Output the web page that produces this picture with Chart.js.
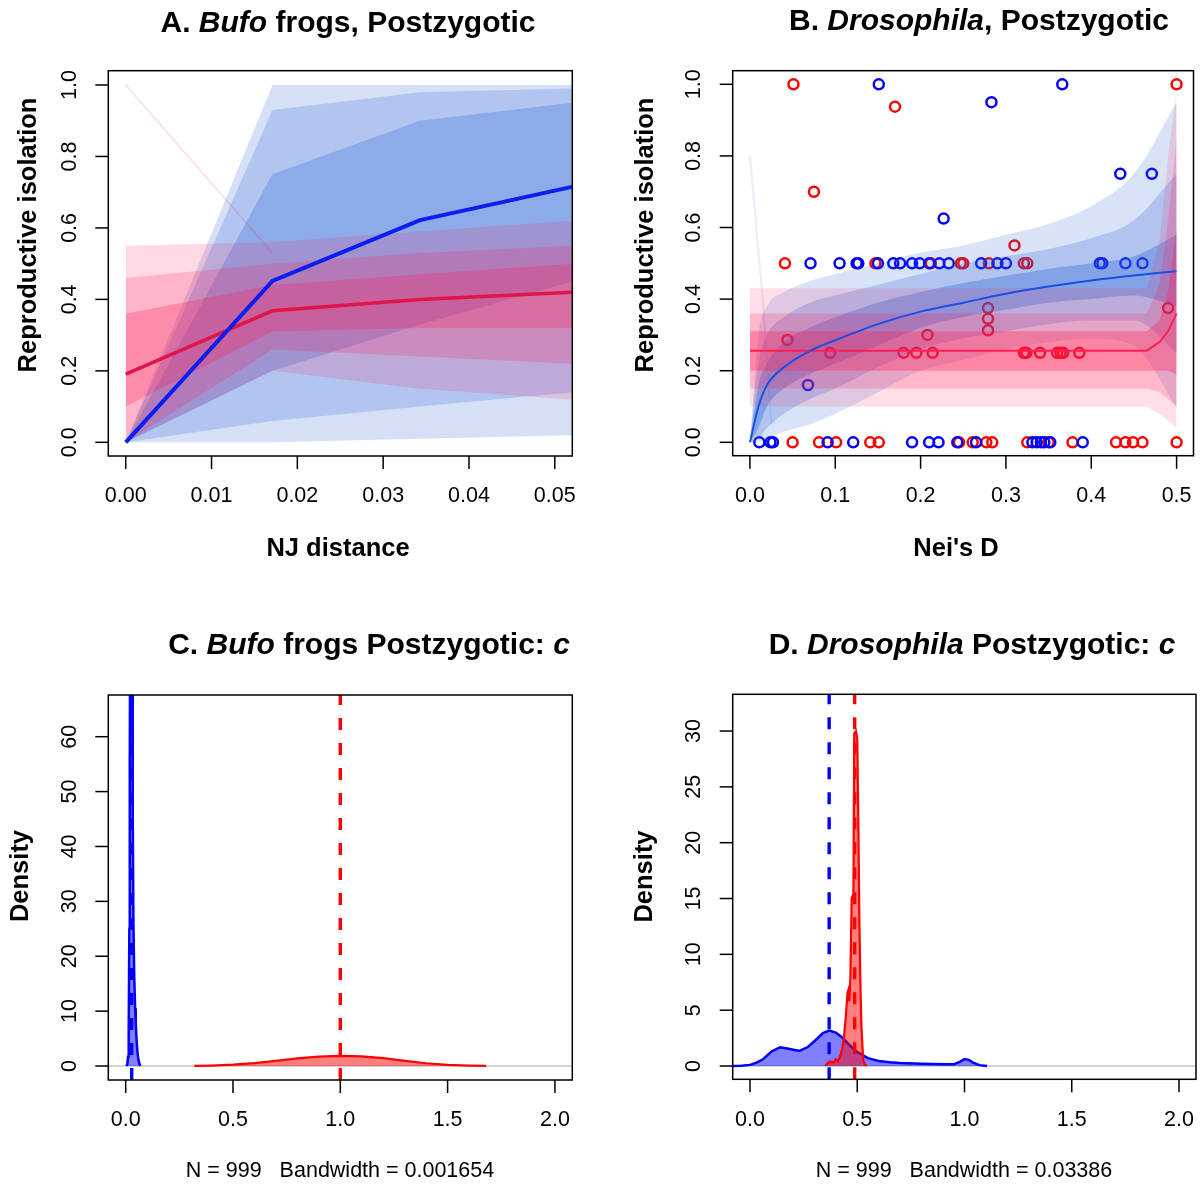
<!DOCTYPE html>
<html>
<head>
<meta charset="utf-8">
<title>Reproductive isolation: Bufo and Drosophila</title>
<script src="https://cdn.jsdelivr.net/npm/chart.js@4.4.1/dist/chart.umd.min.js"></script>
<style>
  body { margin: 0; background: #fff; }
  #wrap { position: relative; width: 1201px; height: 1184px; }
  #wrap canvas { position: absolute; }
</style>
</head>
<body>
<div id="wrap">
  <canvas id="panelA" width="600" height="592" style="left:0;top:0"></canvas>
  <canvas id="panelB" width="601" height="592" style="left:600px;top:0"></canvas>
  <canvas id="panelC" width="600" height="592" style="left:0;top:592px"></canvas>
  <canvas id="panelD" width="601" height="592" style="left:600px;top:592px"></canvas>
</div>
<script>
// ---------- A. Bufo frogs: posterior curves vs NJ distance ----------
const aKnots = [0, 0.0171, 0.0343, 0.052];
const aBlueMean = [0, 0.452, 0.622, 0.715];
const aRedMean = [0.191, 0.368, 0.400, 0.420];
// spread of the posterior draws at each knot (2/10/25/75/90/98 %)
const aBlueQ02 = [0, 0.00, 0.01, 0.02];
const aBlueQ10 = [0, 0.06, 0.10, 0.14];
const aBlueQ25 = [0, 0.20, 0.33, 0.45];
const aBlueQ75 = [0, 0.75, 0.90, 0.95];
const aBlueQ90 = [0, 0.93, 0.98, 0.99];
const aBlueQ98 = [0, 1.00, 1.00, 1.00];
const aRedQ02 = [0.00, 0.20, 0.15, 0.12];
const aRedQ10 = [0.00, 0.26, 0.24, 0.22];
const aRedQ25 = [0.10, 0.31, 0.32, 0.32];
const aRedQ75 = [0.36, 0.44, 0.47, 0.50];
const aRedQ90 = [0.46, 0.50, 0.53, 0.55];
const aRedQ98 = [0.55, 0.56, 0.59, 0.62];
const aStrayX = [0, 0.0171];
const aRedStray = [1.00, 0.53];
const aXTicks = [0, 0.01, 0.02, 0.03, 0.04, 0.05];
const unitTicks = [0, 0.2, 0.4, 0.6, 0.8, 1.0];

// ---------- B. Drosophila: posterior curves vs Nei's D ----------
const bGrid = [0, 0.01, 0.02, 0.04, 0.07, 0.1, 0.15, 0.2, 0.25, 0.3, 0.35, 0.4, 0.45, 0.5];
const bBlueMean = [0, 0.10, 0.16, 0.21, 0.255, 0.285, 0.33, 0.365, 0.39, 0.415, 0.435, 0.452, 0.466, 0.478];
const bBlueQ02 = [0, 0, 0.01, 0.03, 0.05, 0.08, 0.14, 0.20, 0.23, 0.26, 0.28, 0.29, 0.27, 0.10];
const bBlueQ10 = [0, 0.01, 0.04, 0.08, 0.12, 0.15, 0.21, 0.26, 0.29, 0.31, 0.33, 0.34, 0.34, 0.25];
const bBlueQ25 = [0, 0.04, 0.10, 0.15, 0.19, 0.22, 0.27, 0.32, 0.35, 0.37, 0.39, 0.40, 0.41, 0.38];
const bBlueQ75 = [0, 0.16, 0.22, 0.28, 0.32, 0.35, 0.39, 0.42, 0.445, 0.465, 0.485, 0.50, 0.52, 0.58];
const bBlueQ90 = [0, 0.22, 0.30, 0.35, 0.39, 0.41, 0.44, 0.47, 0.50, 0.52, 0.54, 0.57, 0.62, 0.75];
const bBlueQ98 = [0, 0.30, 0.38, 0.42, 0.45, 0.47, 0.50, 0.53, 0.55, 0.58, 0.61, 0.66, 0.75, 0.95];
const bStrayX = [0, 0.015, 0.025];
const bBlueStray = [0.80, 0.40, 0.05];
const bRedGrid = [0, 0.465, 0.48, 0.49, 0.5];
const bRedMean = [0.256, 0.256, 0.28, 0.31, 0.36];
const bRedQ02 = [0.10, 0.10, 0.08, 0.06, 0.04];
const bRedQ10 = [0.15, 0.15, 0.14, 0.12, 0.10];
const bRedQ25 = [0.20, 0.20, 0.20, 0.20, 0.19];
const bRedQ75 = [0.31, 0.31, 0.34, 0.42, 0.60];
const bRedQ90 = [0.36, 0.36, 0.44, 0.62, 0.85];
const bRedQ98 = [0.43, 0.43, 0.56, 0.80, 0.98];
// observed species pairs
const bBlueObsX = [0.151, 0.366, 0.283, 0.227, 0.434, 0.471,
  0.071, 0.105, 0.125, 0.127, 0.150, 0.168, 0.176, 0.190, 0.199, 0.210, 0.222, 0.233, 0.271, 0.290, 0.300, 0.410, 0.413, 0.440, 0.460,
  0.068,
  0.011, 0.024, 0.027, 0.091, 0.121, 0.190, 0.210, 0.221, 0.243, 0.265, 0.331, 0.336, 0.341, 0.345, 0.352, 0.390];
const bBlueObsY = [1, 1, 0.95, 0.625, 0.75, 0.75,
  0.5, 0.5, 0.5, 0.5, 0.5, 0.5, 0.5, 0.5, 0.5, 0.5, 0.5, 0.5, 0.5, 0.5, 0.5, 0.5, 0.5, 0.5, 0.5,
  0.16,
  0, 0, 0, 0, 0, 0, 0, 0, 0, 0, 0, 0, 0, 0, 0, 0];
const bRedObsX = [0.051, 0.500, 0.170, 0.075, 0.310,
  0.041, 0.147, 0.212, 0.247, 0.250, 0.280, 0.321, 0.325,
  0.044, 0.208, 0.279, 0.279, 0.279, 0.490,
  0.094, 0.180, 0.195, 0.214, 0.321, 0.324, 0.340, 0.360, 0.364, 0.367, 0.386,
  0.050, 0.081, 0.101, 0.141, 0.151, 0.245, 0.261, 0.277, 0.284, 0.325, 0.350, 0.378, 0.429, 0.440, 0.449, 0.460, 0.500];
const bRedObsY = [1, 1, 0.9375, 0.7, 0.55,
  0.5, 0.5, 0.5, 0.5, 0.5, 0.5, 0.5, 0.5,
  0.286, 0.30, 0.375, 0.345, 0.313, 0.375,
  0.25, 0.25, 0.25, 0.25, 0.25, 0.25, 0.25, 0.25, 0.25, 0.25, 0.25,
  0, 0, 0, 0, 0, 0, 0, 0, 0, 0, 0, 0, 0, 0, 0, 0, 0];
const bXTicks = [0, 0.1, 0.2, 0.3, 0.4, 0.5];

// ---------- C. Bufo posterior density of c ----------
const cBlueX = [0.004, 0.008, 0.011, 0.014, 0.017, 0.019, 0.021, 0.024, 0.027, 0.030, 0.033, 0.036, 0.040, 0.044, 0.047, 0.051, 0.055, 0.059, 0.064, 0.068];
const cBlueY = [0, 0.4, 1.7, 6, 25, 55, 80, 108, 112, 78, 45, 26, 16, 10.5, 7.8, 4.5, 2.5, 1.2, 0.4, 0];
const cRedX = [0.32, 0.4, 0.5, 0.6, 0.7, 0.8, 0.9, 1.0, 1.1, 1.2, 1.3, 1.4, 1.5, 1.6, 1.68];
const cRedY = [0.01, 0.08, 0.24, 0.52, 0.95, 1.4, 1.72, 1.86, 1.75, 1.42, 0.95, 0.5, 0.2, 0.06, 0.01];
const cMeans = [0.028, 1.0]; // blue, red
const cYTicks = [0, 10, 20, 30, 40, 50, 60];

// ---------- D. Drosophila posterior density of c ----------
const dBlueX = [-0.12, -0.04, 0, 0.03, 0.06, 0.1, 0.14, 0.18, 0.23, 0.27, 0.31, 0.34, 0.37, 0.4, 0.43, 0.46, 0.5, 0.55, 0.6, 0.65, 0.7, 0.8, 0.9, 0.95, 0.98, 1.0, 1.02, 1.04, 1.07, 1.105];
const dBlueY = [0, 0.02, 0.1, 0.3, 0.6, 1.3, 1.68, 1.55, 1.35, 1.7, 2.4, 2.95, 3.17, 3.0, 2.55, 1.95, 1.25, 0.7, 0.45, 0.33, 0.27, 0.2, 0.16, 0.15, 0.4, 0.63, 0.55, 0.3, 0.08, 0];
const dRedX = [0.35, 0.37, 0.39, 0.40, 0.41, 0.42, 0.43, 0.438, 0.447, 0.455, 0.46, 0.463, 0.468, 0.474, 0.478, 0.482, 0.486, 0.494, 0.5, 0.505, 0.51, 0.515, 0.519, 0.524, 0.528, 0.536, 0.544];
const dRedY = [0, 0.4, 0.3, 0.6, 0.4, 0.9, 1.5, 2.6, 4.5, 6.6, 6.9, 5.8, 8, 15, 15.2, 15, 29.8, 30, 29.3, 22, 12.8, 7, 3.8, 1.8, 0.5, 0.15, 0];
const dMeans = [0.369, 0.488];
const dYTicks = [0, 5, 10, 15, 20, 25, 30];
const densXTicks = [0, 0.5, 1.0, 1.5, 2.0];

const SANS = '"Liberation Sans", Arial, Helvetica, sans-serif';
const BLUE_HAZE = a => `rgba(45,100,215,${a})`;
const RED_HAZE = a => `rgba(255,25,85,${a})`;

function pts(xs, ys) {
  return xs.map((x, i) => ({ x, y: ys[i] }));
}

function lineSet(xs, ys, color, width, order, extra) {
  return Object.assign({
    data: pts(xs, ys), borderColor: color, borderWidth: width,
    pointRadius: 0, fill: false, order
  }, extra || {});
}

// filled envelope between two quantile curves
function band(list, xs, lo, hi, color, order, smooth) {
  const lowIdx = list.length;
  const mode = smooth ? { cubicInterpolationMode: 'monotone' } : {};
  list.push(Object.assign({ data: pts(xs, lo), borderColor: 'transparent', borderWidth: 0, pointRadius: 0, fill: false, order }, mode));
  list.push(Object.assign({ data: pts(xs, hi), borderColor: 'transparent', borderWidth: 0, pointRadius: 0, fill: lowIdx, backgroundColor: color, order }, mode));
}

function circles(xs, ys, color, order) {
  return {
    data: pts(xs, ys), showLine: false, pointRadius: 5, pointBorderWidth: 2.5,
    borderColor: color, pointBorderColor: color, pointBackgroundColor: 'rgba(0,0,0,0)', order
  };
}

function vline(x, yr, color, order) {
  return lineSet([x, x], [yr[0], yr[1]], color, 3.4, order, { borderDash: [12, 13], borderCapStyle: 'butt' });
}

function drawRich(ctx, segs, cx, baseline, size) {
  const fonts = segs.map(s => `${s[1] ? 'italic ' : ''}bold ${size}px ${SANS}`);
  let total = 0;
  segs.forEach((s, i) => { ctx.font = fonts[i]; total += ctx.measureText(s[0]).width; });
  let x = cx - total / 2;
  ctx.textAlign = 'left';
  ctx.textBaseline = 'alphabetic';
  segs.forEach((s, i) => {
    ctx.font = fonts[i];
    ctx.fillText(s[0], x, baseline);
    x += ctx.measureText(s[0]).width;
  });
}

// box, ticks, tick labels and titles in the style of base R graphics
function framePlugin(cfg) {
  return {
    id: 'frame',
    afterDraw(chart) {
      const { ctx, chartArea: a } = chart;
      const sx = chart.scales.x, sy = chart.scales.y;
      const ox = cfg.origin[0], oy = cfg.origin[1];
      ctx.save();
      ctx.strokeStyle = '#000';
      ctx.fillStyle = '#000';
      ctx.lineWidth = 1.5;
      ctx.strokeRect(a.left, a.top, a.right - a.left, a.bottom - a.top);

      ctx.font = `21.5px ${SANS}`;
      ctx.textAlign = 'center';
      ctx.textBaseline = 'middle';
      cfg.xTicks.forEach(v => {
        const px = sx.getPixelForValue(v);
        ctx.beginPath(); ctx.moveTo(px, a.bottom); ctx.lineTo(px, a.bottom + 13); ctx.stroke();
        ctx.fillText(cfg.xFmt(v), px, a.bottom + 40.5);
      });
      cfg.yTicks.forEach(v => {
        const py = sy.getPixelForValue(v);
        ctx.beginPath(); ctx.moveTo(a.left - 13, py); ctx.lineTo(a.left, py); ctx.stroke();
        ctx.save();
        ctx.translate(a.left - 38.5, py);
        ctx.rotate(-Math.PI / 2);
        ctx.fillText(cfg.yFmt(v), 0, 0);
        ctx.restore();
      });

      drawRich(ctx, cfg.title, cfg.titleAt[0] - ox, cfg.titleAt[1] - oy, 30);

      ctx.textAlign = 'center';
      ctx.textBaseline = 'middle';
      if (cfg.xTitle) {
        ctx.font = `bold 25.5px ${SANS}`;
        ctx.fillText(cfg.xTitle, cfg.xTitleAt[0] - ox, cfg.xTitleAt[1] - oy);
      }
      if (cfg.sub) {
        ctx.font = `21.5px ${SANS}`;
        ctx.fillText(cfg.sub, cfg.subAt[0] - ox, cfg.subAt[1] - oy);
      }
      ctx.font = `bold 25.5px ${SANS}`;
      ctx.save();
      ctx.translate(cfg.yTitleAt[0] - ox, cfg.yTitleAt[1] - oy);
      ctx.rotate(-Math.PI / 2);
      ctx.fillText(cfg.yTitle, 0, 0);
      ctx.restore();
      ctx.restore();
    }
  };
}

function makePanel(id, datasets, xr, yr, padding, cfg) {
  return new Chart(document.getElementById(id), {
    type: 'line',
    data: { datasets },
    options: {
      responsive: false,
      animation: false,
      devicePixelRatio: 1,
      layout: { padding },
      events: [],
      plugins: { legend: { display: false }, tooltip: { enabled: false } },
      elements: { line: { tension: 0 } },
      scales: {
        x: { type: 'linear', display: false, min: xr[0], max: xr[1] },
        y: { type: 'linear', display: false, min: yr[0], max: yr[1] }
      }
    },
    plugins: [framePlugin(cfg)]
  });
}

// ---------- panel A ----------
const aSets = [];
band(aSets, aKnots, aBlueQ02, aBlueQ98, BLUE_HAZE(0.2), 9);
band(aSets, aKnots, aBlueQ10, aBlueQ90, BLUE_HAZE(0.22), 9);
band(aSets, aKnots, aBlueQ25, aBlueQ75, BLUE_HAZE(0.28), 9);
band(aSets, aKnots, aRedQ02, aRedQ98, RED_HAZE(0.16), 8);
band(aSets, aKnots, aRedQ10, aRedQ90, RED_HAZE(0.2), 8);
band(aSets, aKnots, aRedQ25, aRedQ75, RED_HAZE(0.26), 8);
aSets.push(lineSet(aStrayX, aRedStray, RED_HAZE(0.16), 1.5, 8));
aSets.push(lineSet(aKnots, aRedMean, '#e0164a', 3.5, 2));
aSets.push(lineSet(aKnots, aBlueMean, '#0a1ef2', 4, 1));

makePanel('panelA', aSets, [-0.00203, 0.05204], [-0.0383, 1.04],
  { left: 108.3, top: 70.7, right: 27.7, bottom: 136 },
  {
    origin: [0, 0],
    xTicks: aXTicks, xFmt: v => v.toFixed(2),
    yTicks: unitTicks, yFmt: v => v.toFixed(1),
    title: [['A. ', false], ['Bufo', true], [' frogs, Postzygotic', false]], titleAt: [348, 32],
    xTitle: 'NJ distance', xTitleAt: [338, 549],
    yTitle: 'Reproductive isolation', yTitleAt: [29, 235]
  });

// ---------- panel B ----------
const bSets = [];
bSets.push(circles(bBlueObsX, bBlueObsY, '#0000ff', 20));
bSets.push(circles(bRedObsX, bRedObsY, '#ff0000', 20));
band(bSets, bGrid, bBlueQ02, bBlueQ98, BLUE_HAZE(0.18), 9, true);
band(bSets, bGrid, bBlueQ10, bBlueQ90, BLUE_HAZE(0.24), 9, true);
band(bSets, bGrid, bBlueQ25, bBlueQ75, BLUE_HAZE(0.34), 9, true);
bSets.push(lineSet(bStrayX, bBlueStray, BLUE_HAZE(0.12), 2, 9));
band(bSets, bRedGrid, bRedQ02, bRedQ98, RED_HAZE(0.14), 8);
band(bSets, bRedGrid, bRedQ10, bRedQ90, RED_HAZE(0.2), 8);
band(bSets, bRedGrid, bRedQ25, bRedQ75, RED_HAZE(0.32), 8);
bSets.push(lineSet(bRedGrid, bRedMean, '#ff1f55', 2, 2));
bSets.push(lineSet(bGrid, bBlueMean, '#1a50e6', 2, 1, { cubicInterpolationMode: 'monotone' }));

makePanel('panelB', bSets, [-0.0202, 0.5198], [-0.0374, 1.038],
  { left: 132.7, top: 70.7, right: 5, bottom: 136.3 },
  {
    origin: [600, 0],
    xTicks: bXTicks, xFmt: v => v.toFixed(1),
    yTicks: unitTicks, yFmt: v => v.toFixed(1),
    title: [['B. ', false], ['Drosophila', true], [', Postzygotic', false]], titleAt: [979, 30],
    xTitle: "Nei's D", xTitleAt: [956, 549],
    yTitle: 'Reproductive isolation', yTitleAt: [645.5, 235]
  });

// ---------- panel C ----------
const cX = [-0.081, 2.081], cY = [-2.55, 67.6];
const cSets = [
  lineSet(cX, [0, 0], '#c4c4c4', 1.5, 10),
  lineSet(cBlueX, cBlueY, '#0000ff', 2.5, 5, { fill: { value: 0 }, backgroundColor: 'rgba(0,0,255,0.5)' }),
  lineSet(cRedX, cRedY, '#ff0000', 2.2, 4, { fill: { value: 0 }, backgroundColor: 'rgba(255,0,0,0.5)' }),
  vline(cMeans[0], cY, '#0000ff', 1),
  vline(cMeans[1], cY, '#ff0000', 0)
];
makePanel('panelC', cSets, cX, cY,
  { left: 108.3, top: 103, right: 27.7, bottom: 104 },
  {
    origin: [0, 592],
    xTicks: densXTicks, xFmt: v => v.toFixed(1),
    yTicks: cYTicks, yFmt: v => String(v),
    title: [['C. ', false], ['Bufo', true], [' frogs Postzygotic: ', false], ['c', true]], titleAt: [369, 654],
    sub: 'N = 999   Bandwidth = 0.001654', subAt: [340, 1171],
    yTitle: 'Density', yTitleAt: [21, 876]
  });

// ---------- panel D ----------
const dX = [-0.0807, 2.0793], dY = [-1.19, 33.29];
const dSets = [
  lineSet(dX, [0, 0], '#c4c4c4', 1.5, 10),
  lineSet(dBlueX, dBlueY, '#0000ff', 2.5, 5, { fill: { value: 0 }, backgroundColor: 'rgba(0,0,255,0.5)' }),
  lineSet(dRedX, dRedY, '#ff0000', 2.2, 4, { fill: { value: 0 }, backgroundColor: 'rgba(255,0,0,0.5)' }),
  vline(dMeans[0], dY, '#0000ff', 1),
  vline(dMeans[1], dY, '#ff0000', 0)
];
makePanel('panelD', dSets, dX, dY,
  { left: 132.7, top: 102.3, right: 5, bottom: 104.7 },
  {
    origin: [600, 592],
    xTicks: densXTicks, xFmt: v => v.toFixed(1),
    yTicks: dYTicks, yFmt: v => String(v),
    title: [['D. ', false], ['Drosophila', true], [' Postzygotic: ', false], ['c', true]], titleAt: [972, 654],
    sub: 'N = 999   Bandwidth = 0.03386', subAt: [964, 1171],
    yTitle: 'Density', yTitleAt: [645, 876.5]
  });
</script>
</body>
</html>
